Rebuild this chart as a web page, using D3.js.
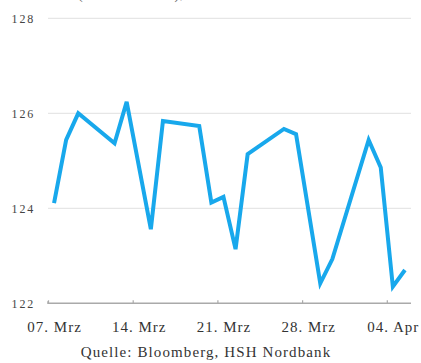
<!DOCTYPE html>
<html>
<head>
<meta charset="utf-8">
<script src="https://cdn.jsdelivr.net/npm/d3@7"></script>
<style>
  body { margin: 0; background: #fff; }
  svg text { font-family: "Liberation Serif", "DejaVu Serif", serif; }
</style>
</head>
<body>
<div id="chart-area"></div>
<script>
const dates = ["2018-03-07", "2018-03-08", "2018-03-09", "2018-03-12", "2018-03-13",
    "2018-03-15", "2018-03-16", "2018-03-19", "2018-03-20", "2018-03-21",
    "2018-03-22", "2018-03-23", "2018-03-26", "2018-03-27", "2018-03-29",
    "2018-03-30", "2018-04-02", "2018-04-03", "2018-04-04", "2018-04-05"];
const values = [124.11, 125.44, 126.0, 125.37, 126.24,
    123.56, 125.84, 125.73, 124.12, 124.24,
    123.14, 125.14, 125.67, 125.56, 122.42,
    122.93, 125.44, 124.86, 122.35, 122.70];
const yTicks = [122, 124, 126, 128];
const xTicks = ["2018-03-07", "2018-03-14", "2018-03-21", "2018-03-28", "2018-04-04"];

const width = 421;
const height = 363;
const margin = { left: 48, right: 10, top: 18, bottom: 60 };
const serif = '"Liberation Serif", "DejaVu Serif", serif';

const parse = d3.timeParse("%Y-%m-%d");
const data = dates.map((d, i) => ({ date: d3.timeHour.offset(parse(d), 12), value: values[i] }));

const svg = d3.select('#chart-area')
    .append('svg')
    .attr("width", width)
    .attr("height", height);

const x = d3.scaleTime()
    .domain([parse("2018-03-07"), parse("2018-04-06")])
    .range([margin.left, width - margin.right]);

const y = d3.scaleLinear()
    .domain([122, 128])
    .range([303.3, 18.3]);

// title, cut off at the top edge as in the original
svg.append('text')
    .attr('x', 78)
    .attr('y', -1.5)
    .attr('font-size', 14)
    .attr('letter-spacing', 1)
    .attr('fill', '#666')
    .text("(Juni-Kontrakt), Kurs in Prozent");

// gridlines
svg.append('g')
    .selectAll('line')
    .data(yTicks.slice(1))
    .enter()
    .append('line')
    .attr('x1', margin.left)
    .attr('x2', width - margin.right)
    .attr('y1', d => y(d))
    .attr('y2', d => y(d))
    .attr('stroke', '#e6e6e6')
    .attr('stroke-width', 1.2);

const yAxis = d3.axisLeft(y)
    .tickValues(yTicks)
    .tickSize(0)
    .tickPadding(13)
    .tickFormat(d => d);
svg.append('g')
    .attr('transform', `translate(${margin.left}, 0)`)
    .call(yAxis)
    .call(g => g.select('.domain').remove())
    .selectAll('text')
    .attr('font-family', serif)
    .attr('font-size', 12)
    .attr('letter-spacing', 1.8)
    .attr('fill', '#444');

const halfDay = x(d3.timeHour.offset(parse("2018-03-07"), 12)) - x(parse("2018-03-07"));
const monthNames = { "03": "Mrz", "04": "Apr" };
const xAxis = d3.axisBottom(x)
    .tickValues(xTicks.map(parse))
    .tickSize(4)
    .tickPadding(14)
    .tickFormat(d => d3.timeFormat("%d")(d) + ". " + monthNames[d3.timeFormat("%m")(d)]);
const xg = svg.append('g')
    .attr('transform', `translate(0, ${y(122)})`)
    .call(xAxis);
xg.select('.domain')
    .attr('stroke', '#aaa')
    .attr('stroke-width', 1.5)
    .attr('d', `M${margin.left},-2V0H${width - margin.right}`);
xg.selectAll('.tick line')
    .attr('stroke', '#aaa')
    .attr('y1', -3)
    .attr('y2', 0)
    .attr('stroke-width', 1.2);
xg.selectAll('.tick text')
    .attr('font-family', serif)
    .attr('font-size', 15)
    .attr('letter-spacing', 1)
    .attr('fill', '#333')
    .attr('x', halfDay);

const line = d3.line()
    .x(d => x(d.date))
    .y(d => y(d.value));

svg.append('path')
    .datum(data)
    .attr('d', line)
    .attr('fill', 'none')
    .attr('stroke', '#18a8ec')
    .attr('stroke-width', 4)
    .attr('stroke-linejoin', 'miter');

svg.append('text')
    .attr('x', 206)
    .attr('y', 357)
    .attr('text-anchor', 'middle')
    .attr('font-size', 15)
    .attr('letter-spacing', 1.1)
    .attr('fill', '#333')
    .text("Quelle: Bloomberg, HSH Nordbank");
</script>
</body>
</html>
